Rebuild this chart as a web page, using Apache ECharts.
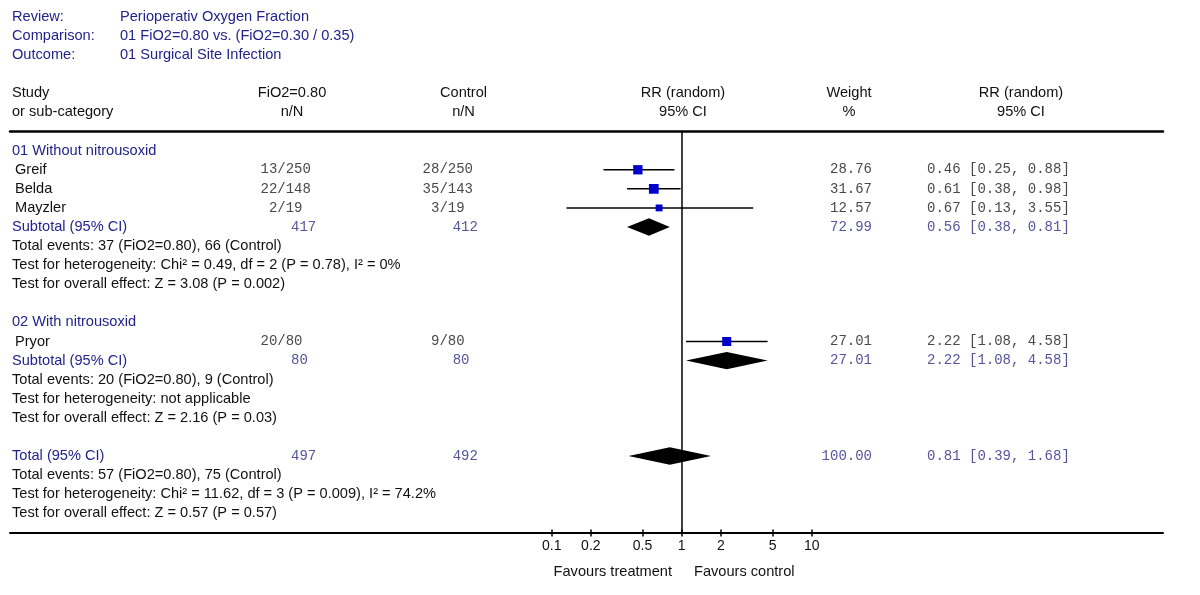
<!DOCTYPE html>
<html><head><meta charset="utf-8">
<script src="https://cdn.jsdelivr.net/npm/echarts@6/dist/echarts.min.js"></script>
<style>html,body{margin:0;padding:0;background:#fff}#c{width:1200px;height:595px}</style>
</head><body><div id="c"></div>
<script>
// ---------------- DATA ----------------
const reviewLabels = ['Review:', 'Comparison:', 'Outcome:'];
const reviewValues = ['Perioperativ Oxygen Fraction', '01 FiO2=0.80 vs. (FiO2=0.30 / 0.35)', '01 Surgical Site Infection'];
const colHeaders = [['Study', 'or sub-category'], ['FiO2=0.80', 'n/N'], ['Control', 'n/N'], ['RR (random)', '95% CI'], ['Weight', '%'], ['RR (random)', '95% CI']];

const groupNames = ['01 Without nitrousoxid', '02 With nitrousoxid'];
const studyNames = ['Greif', 'Belda', 'Mayzler', 'Pryor'];
const studyGroup = [0, 0, 0, 1];
const treatEvents = [13, 22, 2, 20];
const treatTotal = [250, 148, 19, 80];
const ctrlEvents = [28, 35, 3, 9];
const ctrlTotal = [250, 143, 19, 80];
const studyRR = [0.46, 0.61, 0.67, 2.22];
const studyLo = [0.25, 0.38, 0.13, 1.08];
const studyHi = [0.88, 0.98, 3.55, 4.58];
const studyWeight = [28.76, 31.67, 12.57, 27.01];

const subtotalLabel = 'Subtotal (95% CI)';
const subtotalTreatN = [417, 80];
const subtotalCtrlN = [412, 80];
const subtotalRR = [0.56, 2.22];
const subtotalLo = [0.38, 1.08];
const subtotalHi = [0.81, 4.58];
const subtotalWeight = [72.99, 27.01];
const groupStats = [
  ['Total events: 37 (FiO2=0.80), 66 (Control)', 'Test for heterogeneity: Chi\u00b2 = 0.49, df = 2 (P = 0.78), I\u00b2 = 0%', 'Test for overall effect: Z = 3.08 (P = 0.002)'],
  ['Total events: 20 (FiO2=0.80), 9 (Control)', 'Test for heterogeneity: not applicable', 'Test for overall effect: Z = 2.16 (P = 0.03)']
];

const totalLabel = 'Total (95% CI)';
const totalTreatN = 497;
const totalCtrlN = 492;
const totalRR = 0.81;
const totalLo = 0.39;
const totalHi = 1.68;
const totalWeight = 100.00;
const totalStats = ['Total events: 57 (FiO2=0.80), 75 (Control)', 'Test for heterogeneity: Chi\u00b2 = 11.62, df = 3 (P = 0.009), I\u00b2 = 74.2%', 'Test for overall effect: Z = 0.57 (P = 0.57)'];

const tickValues = [0.1, 0.2, 0.5, 1, 2, 5, 10];
const tickLabels = ['0.1', '0.2', '0.5', '1', '2', '5', '10'];
const favoursLeft = 'Favours treatment';
const favoursRight = 'Favours control';

// ---------------- LAYOUT / STYLE ----------------
const L = {
  gridLeft: 10, gridRight: 1163, gridTop: 131, gridBottom: 533,
  nullX: 681.7, pxPerDecade: 130,
  firstRowY: 150.7, rowStep: 19.08,
  labelX: 12, studyX: 15,
  treatSplit: 277.3, treatTotalX: 291,
  ctrlSplit: 439.4, ctrlTotalX: 452.7,
  weightRight: 872, rrLeft: 927
};
const NAVY = '#23238c', SUBNUM = '#55559c', NUM = '#4a4a4a';
const SANS = '"Liberation Sans", Arial, Helvetica, sans-serif';
const MONO = '"Liberation Mono", "Courier New", monospace';
const fSans = '14.6px ' + SANS, fMono = '14px ' + MONO;

const fmtCI = (e, lo, hi) => e.toFixed(2) + ' [' + lo.toFixed(2) + ', ' + hi.toFixed(2) + ']';

// ---------------- BUILD ROWS ----------------
const cells = [];
const studyData = [];
const diamondData = [];
function cell(x, row, text, align, color, font) { cells.push({ value: [x, row], text, align, color, font }); }

let row = 0;
groupNames.forEach((g, gi) => {
  cell(L.labelX, row, g, 'left', NAVY, fSans); row++;
  studyNames.forEach((s, si) => {
    if (studyGroup[si] !== gi) return;
    cell(L.studyX, row, s, 'left', '#111', fSans);
    cell(L.treatSplit, row, String(treatEvents[si]), 'right', NUM, fMono);
    cell(L.treatSplit, row, '/' + treatTotal[si], 'left', NUM, fMono);
    cell(L.ctrlSplit, row, String(ctrlEvents[si]), 'right', NUM, fMono);
    cell(L.ctrlSplit, row, '/' + ctrlTotal[si], 'left', NUM, fMono);
    cell(L.weightRight, row, studyWeight[si].toFixed(2), 'right', NUM, fMono);
    cell(L.rrLeft, row, fmtCI(studyRR[si], studyLo[si], studyHi[si]), 'left', NUM, fMono);
    studyData.push([Math.log10(studyRR[si]), row, Math.log10(studyLo[si]), Math.log10(studyHi[si]), studyWeight[si]]);
    row++;
  });
  cell(L.labelX, row, subtotalLabel, 'left', NAVY, fSans);
  cell(L.treatTotalX, row, String(subtotalTreatN[gi]), 'left', SUBNUM, fMono);
  cell(L.ctrlTotalX, row, String(subtotalCtrlN[gi]), 'left', SUBNUM, fMono);
  cell(L.weightRight, row, subtotalWeight[gi].toFixed(2), 'right', SUBNUM, fMono);
  cell(L.rrLeft, row, fmtCI(subtotalRR[gi], subtotalLo[gi], subtotalHi[gi]), 'left', SUBNUM, fMono);
  diamondData.push([Math.log10(subtotalRR[gi]), row, Math.log10(subtotalLo[gi]), Math.log10(subtotalHi[gi])]);
  row++;
  groupStats[gi].forEach(t => { cell(L.labelX, row, t, 'left', '#111', fSans); row++; });
  row++;
});
cell(L.labelX, row, totalLabel, 'left', NAVY, fSans);
cell(L.treatTotalX, row, String(totalTreatN), 'left', SUBNUM, fMono);
cell(L.ctrlTotalX, row, String(totalCtrlN), 'left', SUBNUM, fMono);
cell(L.weightRight, row, totalWeight.toFixed(2), 'right', SUBNUM, fMono);
cell(L.rrLeft, row, fmtCI(totalRR, totalLo, totalHi), 'left', SUBNUM, fMono);
diamondData.push([Math.log10(totalRR), row, Math.log10(totalLo), Math.log10(totalHi)]);
row++;
totalStats.forEach(t => { cell(L.labelX, row, t, 'left', '#111', fSans); row++; });

// ---------------- GRAPHIC HEADER ----------------
function gtext(x, y, text, align, color, font) {
  return { type: 'text', x, y, silent: true, style: { text, fill: color, font, align, textAlign: align, verticalAlign: 'middle', textVerticalAlign: 'middle' } };
}
const graphics = [];
const headY = [16.5, 35.5, 54.5];
reviewLabels.forEach((t, i) => {
  graphics.push(gtext(12, headY[i], t, 'left', NAVY, fSans));
  graphics.push(gtext(120, headY[i], reviewValues[i], 'left', NAVY, fSans));
});
const colX = [12, 292, 463.5, 683, 849, 1021];
colHeaders.forEach((h, i) => {
  const al = i === 0 ? 'left' : 'center';
  graphics.push(gtext(colX[i], 92.5, h[0], al, '#111', fSans));
  graphics.push(gtext(colX[i], 111.5, h[1], al, '#111', fSans));
});
graphics.push(gtext(672, 572, favoursLeft, 'right', '#111', fSans));
graphics.push(gtext(694, 572, favoursRight, 'left', '#111', fSans));

// ---------------- CHART ----------------
const chart = echarts.init(document.getElementById('c'), null, { renderer: 'canvas' });
const logTicks = tickValues.map(v => Math.log10(v));
const yMin = -(L.firstRowY - L.gridTop) / L.rowStep;
const yMax = (L.gridBottom - L.firstRowY) / L.rowStep;
const xMinLog = (L.gridLeft - L.nullX) / L.pxPerDecade;
const xMaxLog = (L.gridRight - L.nullX) / L.pxPerDecade;

chart.setOption({
  animation: false,
  backgroundColor: '#fff',
  grid: { left: L.gridLeft, right: 1200 - L.gridRight, top: L.gridTop, bottom: 595 - L.gridBottom, containLabel: false },
  xAxis: [
    {
      type: 'value', position: 'bottom', min: xMinLog, max: xMaxLog,
      axisLine: { show: true, onZero: false, lineStyle: { color: '#000', width: 2 } },
      axisTick: { show: true, customValues: logTicks, length: 3.5, lineStyle: { color: '#000', width: 1.5 } },
      axisLabel: {
        show: true, customValues: logTicks, color: '#111', fontSize: 14, fontFamily: SANS, margin: 6,
        formatter: v => { const i = logTicks.findIndex(t => Math.abs(t - v) < 1e-6); return i >= 0 ? tickLabels[i] : ''; }
      },
      splitLine: { show: false }
    },
    {
      type: 'value', position: 'top', min: L.gridLeft, max: L.gridRight,
      axisLine: { show: true, onZero: false, lineStyle: { color: '#000', width: 2.5 } },
      axisTick: { show: false }, axisLabel: { show: false }, splitLine: { show: false }
    },
    {
      type: 'value', position: 'bottom', offset: 0, min: xMinLog, max: xMaxLog,
      axisLine: { show: false, onZero: false },
      axisTick: { show: true, inside: true, customValues: logTicks, length: 3.5, lineStyle: { color: '#000', width: 1.5 } },
      axisLabel: { show: false }, splitLine: { show: false }
    }
  ],
  yAxis: { type: 'value', inverse: true, min: yMin, max: yMax, show: false },
  graphic: graphics,
  series: [
    {
      type: 'custom', name: 'studies', xAxisIndex: 0, yAxisIndex: 0, data: studyData, silent: true,
      renderItem: (params, api) => {
        const c = api.coord([api.value(0), api.value(1)]);
        const lo = api.coord([api.value(2), api.value(1)]);
        const hi = api.coord([api.value(3), api.value(1)]);
        const s = 5 + api.value(4) * 0.15;
        return {
          type: 'group', children: [
            { type: 'line', shape: { x1: lo[0], y1: c[1], x2: hi[0], y2: c[1] }, style: { stroke: '#000', lineWidth: 1.5 } },
            { type: 'rect', shape: { x: c[0] - s / 2, y: c[1] - s / 2, width: s, height: s }, style: { fill: '#0000cc' } }
          ]
        };
      },
      z: 3
    },
    {
      type: 'custom', name: 'pooled', xAxisIndex: 0, yAxisIndex: 0, data: diamondData, silent: true,
      renderItem: (params, api) => {
        const c = api.coord([api.value(0), api.value(1)]);
        const lo = api.coord([api.value(2), api.value(1)]);
        const hi = api.coord([api.value(3), api.value(1)]);
        const h = 8.7;
        return { type: 'polygon', shape: { points: [[lo[0], c[1]], [c[0], c[1] - h], [hi[0], c[1]], [c[0], c[1] + h]] }, style: { fill: '#000' } };
      },
      markLine: {
        silent: true, symbol: 'none', label: { show: false },
        lineStyle: { color: '#000', width: 1.5, type: 'solid' },
        data: [{ xAxis: 0 }]
      },
      z: 2
    },
    {
      type: 'custom', name: 'table', xAxisIndex: 1, yAxisIndex: 0, silent: true,
      data: cells.map(c => c.value),
      renderItem: (params, api) => {
        const c = cells[params.dataIndex];
        const p = api.coord([api.value(0), api.value(1)]);
        return { type: 'text', x: p[0], y: p[1], style: { text: c.text, fill: c.color, font: c.font, align: c.align, textAlign: c.align, verticalAlign: 'middle', textVerticalAlign: 'middle' } };
      },
      z: 4
    }
  ]
});
</script>
</body></html>
